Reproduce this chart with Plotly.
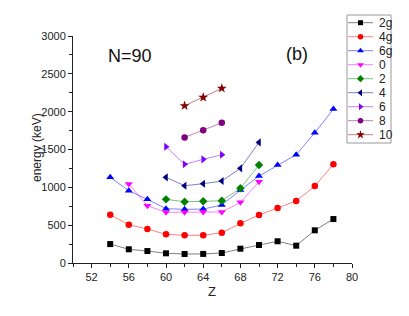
import plotly.graph_objects as go

# page body has an 8px margin; figure fills the rest of the 409x316 window
OFF = 8
W, H = 409 - 2 * OFF, 316 - 2 * OFF

# ---- data ----
names = ["2g", "4g", "6g", "0", "2", "4", "6", "8", "10"]
z_2g = [54, 56, 58, 60, 62, 64, 66, 68, 70, 72, 74, 76, 78]
e_2g = [250, 181, 158, 128, 119, 120, 132, 189, 238, 287, 229, 432, 581]
z_4g = [54, 56, 58, 60, 62, 64, 66, 68, 70, 72, 74, 76, 78]
e_4g = [638, 506, 449, 379, 366, 366, 400, 524, 634, 727, 819, 1017, 1304]
z_6g = [54, 56, 58, 60, 62, 64, 66, 68, 70, 72, 74, 76, 78]
e_6g = [1132, 955, 841, 718, 709, 713, 766, 964, 1149, 1295, 1431, 1721, 2034]
z_0 = [56, 58, 60, 62, 64, 66, 68, 70]
e_0 = [1044, 757, 670, 670, 674, 674, 802, 1074]
z_2 = [60, 62, 64, 66, 68, 70]
e_2 = [841, 810, 815, 823, 987, 1295]
z_4 = [60, 62, 64, 66, 68, 70]
e_4 = [1132, 1021, 1048, 1083, 1251, 1594]
z_6 = [60, 62, 64, 66]
e_6 = [1537, 1304, 1370, 1431]
z_8 = [62, 64, 66]
e_8 = [1660, 1753, 1853]
z_10 = [62, 64, 66]
e_10 = [2078, 2189, 2308]

xs = [z_2g, z_4g, z_6g, z_0, z_2, z_4, z_6, z_8, z_10]
ys = [e_2g, e_4g, e_6g, e_0, e_2, e_4, e_6, e_8, e_10]

colors = [(0, 0, 0), (255, 0, 0), (0, 0, 255), (255, 0, 255), (0, 128, 0),
          (0, 0, 128), (128, 0, 255), (128, 0, 128), (128, 0, 0)]
symbols = ["square", "circle", "triangle-up", "triangle-down", "diamond",
           "triangle-left", "triangle-right", "circle", "star"]
sizes = [6, 6.5, 7, 7, 6.5, 7, 7, 6.5, 7.5]

# ---- layout geometry (window pixels) ----
px_l, px_r, px_t, px_b = 73, 352, 36, 263
lg_l, lg_r, lg_t, lg_b = 347, 391, 15, 143


def fx(p):
    return (p - OFF) / W


def fy(p):
    return 1 - (p - OFF) / H


fig = go.Figure()

for i in range(len(names)):
    r, g, b = colors[i]
    fig.add_trace(go.Scatter(
        x=xs[i], y=ys[i], mode="lines+markers", name=names[i],
        line=dict(color=f"rgba({r},{g},{b},0.5)", width=1),
        marker=dict(symbol=symbols[i], size=sizes[i], color=f"rgb({r},{g},{b})",
                    line=dict(width=0)),
        showlegend=False, xaxis="x", yaxis="y", cliponaxis=False,
    ))

# custom legend drawn in its own small axes
step = 14
for i in range(len(names)):
    r, g, b = colors[i]
    yc = 7.7 + step * i
    fig.add_trace(go.Scatter(
        x=[1, 26], y=[yc, yc], mode="lines",
        line=dict(color=f"rgba({r},{g},{b},0.5)", width=1),
        showlegend=False, xaxis="x2", yaxis="y2", hoverinfo="skip"))
    fig.add_trace(go.Scatter(
        x=[13.5], y=[yc], mode="markers",
        marker=dict(symbol=symbols[i], size=sizes[i] - 1, color=f"rgb({r},{g},{b})",
                    line=dict(width=0)),
        showlegend=False, xaxis="x2", yaxis="y2", hoverinfo="skip"))
    fig.add_annotation(x=29.5, y=yc, xref="x2", yref="y2", text=names[i],
                       showarrow=False, xanchor="left", yanchor="middle",
                       font=dict(size=12, color="#222"))

axis_font = dict(family="Liberation Sans, Arial, sans-serif", size=11, color="#222")

fig.update_layout(
    template="none",
    width=W, height=H,
    margin=dict(l=0, r=0, t=0, b=0, pad=0),
    paper_bgcolor="white", plot_bgcolor="white",
    font=dict(family="Liberation Sans, Arial, sans-serif", color="#222"),
    xaxis=dict(domain=[fx(px_l), fx(px_r)], range=[50, 80], tick0=52, dtick=4,
               automargin=False,
               showline=True, linecolor="#222", linewidth=1, ticks="outside",
               ticklen=4, tickcolor="#222", showgrid=False, zeroline=False,
               tickfont=axis_font, anchor="y",
               minor=dict(dtick=2, tick0=50, ticks="outside", ticklen=3,
                          tickcolor="#222", showgrid=False)),
    yaxis=dict(domain=[fy(px_b), fy(px_t)], range=[0, 3000], dtick=500,
               automargin=False,
               showline=True, linecolor="#222", linewidth=1, ticks="outside",
               ticklen=4, tickcolor="#222", showgrid=False, zeroline=False,
               tickfont=axis_font, anchor="x",
               minor=dict(dtick=250, ticks="outside", ticklen=3,
                          tickcolor="#222", showgrid=False)),
    xaxis2=dict(domain=[fx(lg_l), fx(lg_r)], range=[0, lg_r - lg_l], visible=False,
                automargin=False, anchor="y2", fixedrange=True),
    yaxis2=dict(domain=[fy(lg_b), fy(lg_t)], range=[lg_b - lg_t, 0], visible=False,
                automargin=False, anchor="x2", fixedrange=True),
    showlegend=False,
)

# legend frame
fig.add_shape(type="rect", xref="paper", yref="paper",
              x0=fx(lg_l), x1=fx(lg_r), y0=fy(lg_b), y1=fy(lg_t),
              line=dict(color="#999", width=1), fillcolor="rgba(0,0,0,0)")


# texts
def label(x, y, text, size, angle=0, color="#222"):
    fig.add_annotation(x=fx(x), y=fy(y), xref="paper", yref="paper", text=text,
                       showarrow=False, xanchor="center", yanchor="middle",
                       textangle=angle, font=dict(size=size, color=color))


label(129.5, 56, "N=90", 18, color="#111")
label(296.5, 54, "(b)", 18, color="#111")
label(212, 291, "Z", 13)
label(37, 147, "energy (keV)", 12, angle=-90)

fig.write_html("out.html")
